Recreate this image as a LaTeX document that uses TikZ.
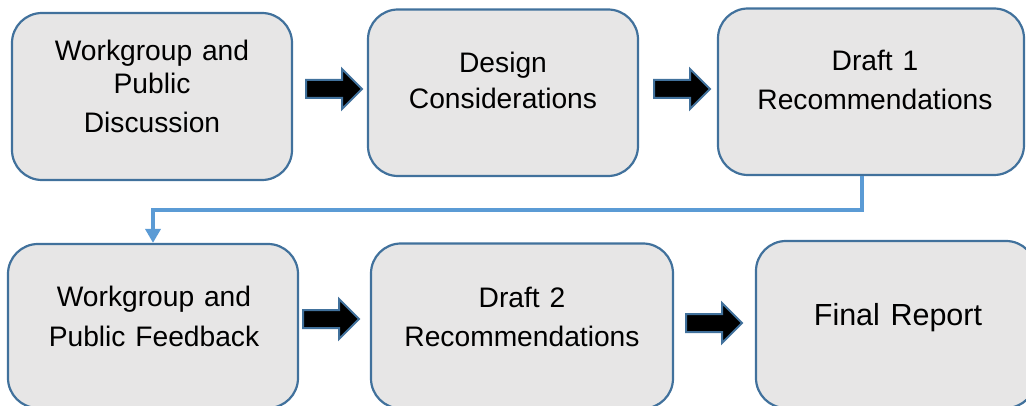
\documentclass[tikz,border=0pt]{standalone}
\usepackage{fontspec}
\setmainfont{Liberation Sans}[WordSpace=1.25]
\usetikzlibrary{arrows.meta}
\definecolor{boxfill}{HTML}{E7E6E6}
\definecolor{boxline}{HTML}{41719C}
\definecolor{connline}{HTML}{5B9BD5}
\tikzset{
  procbox/.style={draw=boxline, fill=boxfill, line width=2.2pt, rounded corners=30pt, inner sep=0pt},
  boxtext/.style={anchor=base, inner sep=0pt, font=\fontsize{28.2}{33}\selectfont},
  bigtext/.style={anchor=base, inner sep=0pt, font=\fontsize{30.5}{36}\selectfont},
  conn/.style={draw=connline, line width=3.5pt, -{Triangle[length=14pt,width=15pt]}},
  barrowstyle/.style={draw=boxline, fill=black, line width=2pt, line join=miter}
}
\newcommand\blockarrow[2]{%
  \draw[barrowstyle] (#1,#2-9) -- (#1+36,#2-9) -- (#1+36,#2-20) -- (#1+56,#2)
    -- (#1+36,#2+20) -- (#1+36,#2+9) -- (#1,#2+9) -- cycle;}
\begin{document}
\begin{tikzpicture}[x=1pt,y=-1pt]
\useasboundingbox (0,0) rectangle (1026,406);
% boxes
\node[procbox, minimum width=280pt, minimum height=167pt] (b1) at (152,96.5) {};
\node[procbox, minimum width=270pt, minimum height=166.5pt] (b2) at (503,92.75) {};
\node[procbox, minimum width=306pt, minimum height=166.5pt] (b3) at (871,91.75) {};
\node[procbox, minimum width=290pt, minimum height=164pt] (b4) at (153,326) {};
\node[procbox, minimum width=302pt, minimum height=165pt] (b5) at (522,326) {};
\node[procbox, minimum width=280pt, minimum height=167pt] (b6) at (896,324.5) {};
% texts
\node[boxtext] (t1a) at (152,61) {Workgroup and};
\node[boxtext] (t1b) at (152,94) {Public};
\node[boxtext] (t1c) at (152,133) {Discussion};
\node[boxtext] (t2a) at (503,73) {Design};
\node[boxtext] (t2b) at (503,109) {Considerations};
\node[boxtext] (t3a) at (875,71) {Draft 1};
\node[boxtext] (t3b) at (875,110) {Recommendations};
\node[boxtext] (t4a) at (154,306) {Workgroup and};
\node[boxtext] (t4b) at (154,346) {Public Feedback};
\node[boxtext] (t5a) at (522,307) {Draft 2};
\node[boxtext] (t5b) at (522,346) {Recommendations};
\node[bigtext] (t6a) at (898,325) {Final Report};
% block arrows
\blockarrow{306}{89}
\blockarrow{654}{89}
\blockarrow{303}{319}
\blockarrow{686}{323}
% connector
\draw[conn] ([xshift=-9pt]b3.south) -- ++(0,34) -| (b4.north);
\end{tikzpicture}
\end{document}
